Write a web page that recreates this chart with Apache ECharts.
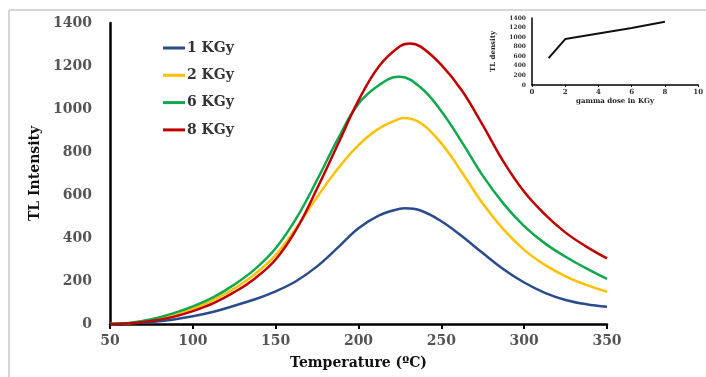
<!DOCTYPE html>
<html>
<head>
<meta charset="utf-8">
<script src="https://cdn.jsdelivr.net/npm/echarts@6/dist/echarts.min.js"></script>
<style>
html,body{margin:0;padding:0;background:#fff;}
#chart{width:706px;height:377px;}
</style>
</head>
<body>
<div id="chart"></div>
<script>
// Main chart data (TL glow curves)
const temperature = [50,62.5,75,87.5,100,112.5,125,137.5,150,162.5,175,187.5,200,212.5,225,237.5,250,262.5,275,287.5,300,312.5,325,337.5,350];
const kgy1 = [0,3,9,20,36,57,85,115,152,200,268,355,445,505,536,528,478,408,330,255,193,145,112,92,80];
const kgy2 = [0,5,20,42,72,112,165,232,320,448,590,722,832,910,955,935,840,705,560,440,345,275,222,182,150];
const kgy6 = [0,6,22,48,82,125,183,255,352,492,670,860,1025,1112,1150,1100,990,845,690,560,455,375,313,259,210];
const kgy8 = [0,4,14,32,60,97,148,212,300,440,630,835,1040,1200,1292,1290,1205,1085,925,755,615,510,425,360,305];
// Peak (temperature, intensity) of each glow curve
const peakTemp = [228,227,224,231];
const peakValue = [538,958,1150,1305];
const seriesNames = ['1 KGy','2 KGy','6 KGy','8 KGy'];
// Inset data
const doseKGy = [1,2,6,8];
const peakTL = [560,960,1190,1320];

const colors = ['#2B4C8C','#FFC000','#10A84E','#C00000'];
const serif = 'DejaVu Serif';

function pairs(xs, ys){ return xs.map((x,i)=>[x, ys[i]]); }

const chart = echarts.init(document.getElementById('chart'), null, {renderer:'canvas'});
const mainSeries = [kgy1,kgy2,kgy6,kgy8].map((arr,i)=>{
  const d = pairs(temperature, arr).filter(p => Math.abs(p[0]-peakTemp[i]) > 0.5);
  d.push([peakTemp[i], peakValue[i]]);
  d.sort((a,b)=>a[0]-b[0]);
  return {
    name: seriesNames[i],
    type: 'line',
    xAxisIndex: 0, yAxisIndex: 0,
    data: d,
    smooth: 0.4,
    showSymbol: false,
    lineStyle: {color: colors[i], width: 2.5},
    itemStyle: {color: colors[i]},
    z: 3
  };
});

const plain = v => String(v);

chart.setOption({
  animation: false,
  backgroundColor: '#fff',
  graphic: [
    {type:'line', shape:{x1:9,y1:10,x2:9,y2:377}, style:{stroke:'#d6d6d6', lineWidth:2}},
    {type:'line', shape:{x1:9,y1:10,x2:706,y2:10}, style:{stroke:'#d6d6d6', lineWidth:2}}
  ],
  legend: {
    data: seriesNames,
    orient: 'vertical',
    left: 163, top: 41,
    padding: 0,
    itemWidth: 22, itemHeight: 3,
    itemGap: 13.3,
    icon: 'rect',
    textStyle: {fontFamily: serif, fontWeight: 'bold', fontSize: 14, color: '#333', padding:[0,0,0,-3]}
  },
  grid: [
    {left: 110, right: 99, top: 23, bottom: 53},
    {left: 532, right: 2, top: 18, bottom: 292}
  ],
  xAxis: [
    {
      type: 'value', gridIndex: 0, min: 50, max: 350, interval: 50,
      name: 'Temperature (ºC)', nameLocation: 'middle', nameGap: 32,
      nameTextStyle: {fontFamily: serif, fontWeight: 'bold', fontSize: 14, color: '#111'},
      axisLine: {show: true, lineStyle: {color: '#000', width: 2.5}},
      axisTick: {show: true, inside: false, length: 5, lineStyle: {color: '#000', width: 2}},
      axisLabel: {fontFamily: serif, fontWeight: 'bold', fontSize: 14, color: '#555', margin: 10, formatter: plain},
      splitLine: {show: false}
    },
    {
      type: 'value', gridIndex: 1, min: 0, max: 10, interval: 2,
      name: 'gamma dose in KGy', nameLocation: 'middle', nameGap: 13,
      nameTextStyle: {fontFamily: serif, fontWeight: 'bold', fontSize: 7, color: '#222'},
      axisLine: {show: true, lineStyle: {color: '#000', width: 1.5}},
      axisTick: {show: true, length: 2, lineStyle: {color: '#000', width: 1}},
      axisLabel: {fontFamily: serif, fontWeight: 'bold', fontSize: 7, color: '#333', margin: 4, formatter: plain},
      splitLine: {show: false}
    }
  ],
  yAxis: [
    {
      type: 'value', gridIndex: 0, min: 0, max: 1400, interval: 200,
      name: 'TL Intensity', nameLocation: 'middle', nameGap: 68,
      nameTextStyle: {fontFamily: serif, fontWeight: 'bold', fontSize: 14, color: '#111'},
      axisLine: {show: true, lineStyle: {color: '#000', width: 2.5}},
      axisTick: {show: false},
      axisLabel: {fontFamily: serif, fontWeight: 'bold', fontSize: 14, color: '#555', margin: 18, formatter: plain},
      splitLine: {show: false}
    },
    {
      type: 'value', gridIndex: 1, min: 0, max: 1400, interval: 200,
      name: 'TL density', nameLocation: 'middle', nameGap: 35,
      nameTextStyle: {fontFamily: serif, fontWeight: 'bold', fontSize: 7, color: '#222'},
      axisLine: {show: true, lineStyle: {color: '#000', width: 1.5}},
      axisTick: {show: false},
      axisLabel: {fontFamily: serif, fontWeight: 'bold', fontSize: 6, color: '#333', margin: 6, formatter: plain},
      splitLine: {show: false}
    }
  ],
  series: mainSeries.concat([{
    name: 'inset',
    type: 'line',
    xAxisIndex: 1, yAxisIndex: 1,
    data: pairs(doseKGy, peakTL),
    showSymbol: false,
    lineStyle: {color: '#111', width: 2},
    z: 4
  }])
});
</script>
</body>
</html>
